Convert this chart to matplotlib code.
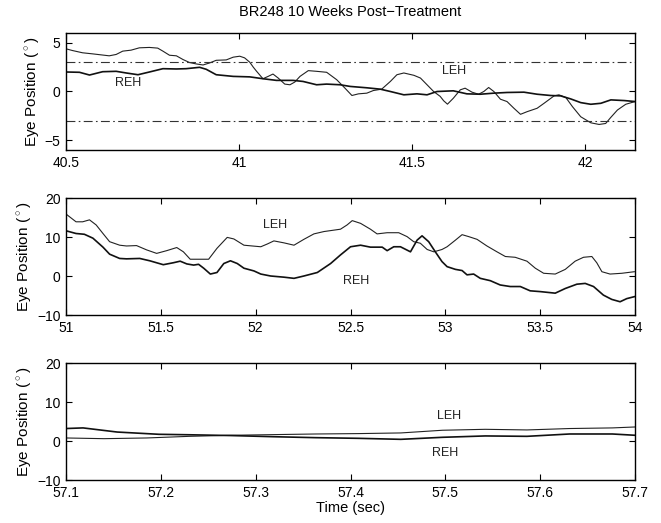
import matplotlib
matplotlib.use("Agg")
import matplotlib.pyplot as plt

plt.rcParams['font.family'] = ['Liberation Sans', 'DejaVu Sans']
plt.rcParams['mathtext.fontset'] = 'custom'
plt.rcParams['mathtext.rm'] = 'Liberation Sans'

# panel 1 (40.5 - 42.14 s)
t1_leh = [40.5, 40.519, 40.548, 40.577, 40.625, 40.645, 40.664, 40.688, 40.712, 40.741,
          40.765, 40.780, 40.799, 40.819, 40.838, 40.857, 40.876, 40.896, 40.915, 40.934,
          40.963, 40.983, 41.002, 41.016, 41.031, 41.041, 41.050, 41.069, 41.084, 41.098,
          41.113, 41.132, 41.147, 41.161, 41.176, 41.200, 41.224, 41.253, 41.282, 41.306,
          41.326, 41.345, 41.369, 41.388, 41.412, 41.437, 41.456, 41.476, 41.505, 41.524,
          41.543, 41.562, 41.581, 41.591, 41.602, 41.619, 41.639, 41.653, 41.673, 41.692,
          41.707, 41.721, 41.736, 41.755, 41.774, 41.794, 41.813, 41.832, 41.861, 41.881,
          41.910, 41.924, 41.944, 41.963, 41.987, 42.016, 42.040, 42.059, 42.073, 42.093,
          42.117, 42.144]
v1_leh = [4.38, 4.2, 3.97, 3.86, 3.66, 3.8, 4.14, 4.24, 4.48, 4.52,
          4.45, 4.14, 3.72, 3.66, 3.28, 2.97, 2.83, 2.72, 2.93, 3.2,
          3.24, 3.52, 3.62, 3.45, 3.0, 2.5, 2.1, 1.31, 1.55, 1.79,
          1.38, 0.76, 0.69, 0.97, 1.55, 2.14, 2.07, 1.97, 1.21, 0.34,
          -0.41, -0.24, -0.17, 0.10, 0.24, 1.03, 1.72, 1.90, 1.66, 1.38,
          0.69, 0.0, -0.5, -0.95, -1.3, -0.69, 0.17, 0.34, -0.07, -0.28,
          0.0, 0.41, 0.0, -0.79, -1.03, -1.72, -2.34, -2.07, -1.72, -1.21,
          -0.45, -0.34, -0.62, -1.55, -2.59, -3.21, -3.38, -3.28, -2.69, -1.9,
          -1.31, -1.03]
t1_reh = [40.5, 40.539, 40.568, 40.606, 40.645, 40.674, 40.708, 40.741, 40.780, 40.819,
          40.847, 40.886, 40.905, 40.934, 40.983, 41.031, 41.069, 41.108, 41.156, 41.185,
          41.224, 41.253, 41.292, 41.321, 41.369, 41.408, 41.437, 41.476, 41.514, 41.543,
          41.572, 41.619, 41.658, 41.697, 41.736, 41.774, 41.823, 41.861, 41.900, 41.929,
          41.958, 41.987, 42.016, 42.045, 42.074, 42.113, 42.144]
v1_reh = [2.0, 1.97, 1.69, 2.03, 2.07, 1.9, 1.72, 2.0, 2.34, 2.31,
          2.34, 2.48, 2.28, 1.72, 1.55, 1.5, 1.31, 1.14, 1.14, 1.03,
          0.69, 0.76, 0.69, 0.52, 0.38, 0.24, 0.0, -0.34, -0.24, -0.34,
          0.0, 0.07, -0.24, -0.28, -0.17, -0.10, -0.07, -0.28, -0.41, -0.45,
          -0.76, -1.14, -1.31, -1.21, -0.86, -0.93, -1.03]

# panel 2 (51 - 54 s)
t2_leh = [51.0, 51.053, 51.088, 51.124, 51.159, 51.195, 51.230, 51.283, 51.319, 51.372,
          51.425, 51.478, 51.531, 51.584, 51.619, 51.655, 51.708, 51.752, 51.796, 51.850,
          51.885, 51.938, 51.982, 52.027, 52.061, 52.096, 52.149, 52.202, 52.254, 52.307,
          52.360, 52.447, 52.482, 52.509, 52.553, 52.605, 52.640, 52.693, 52.754, 52.798,
          52.833, 52.868, 52.904, 52.939, 52.982, 53.009, 53.053, 53.088, 53.123, 53.167,
          53.219, 53.272, 53.316, 53.368, 53.430, 53.474, 53.518, 53.579, 53.632, 53.684,
          53.728, 53.772, 53.798, 53.825, 53.868, 53.930, 53.996]
v2_leh = [15.9, 13.9, 13.9, 14.4, 13.1, 10.9, 8.8, 7.9, 7.7, 7.8,
          6.7, 5.8, 6.5, 7.3, 6.2, 4.3, 4.3, 4.3, 7.1, 9.9,
          9.5, 7.9, 7.7, 7.5, 8.2, 9.0, 8.5, 7.9, 9.4, 10.8,
          11.4, 12.0, 13.1, 14.2, 13.5, 12.0, 10.8, 11.1, 11.1, 10.1,
          8.8, 8.4, 6.8, 6.2, 6.8, 7.5, 9.2, 10.6, 10.1, 9.4,
          7.7, 6.2, 5.0, 4.8, 3.8, 2.0, 0.7, 0.5, 1.7, 3.8,
          4.8, 5.0, 3.4, 1.1, 0.5, 0.7, 1.1]
t2_reh = [51.0, 51.053, 51.097, 51.142, 51.195, 51.230, 51.283, 51.319, 51.389, 51.442,
          51.513, 51.566, 51.602, 51.637, 51.673, 51.699, 51.726, 51.761, 51.796, 51.832,
          51.867, 51.903, 51.938, 51.991, 52.027, 52.079, 52.149, 52.202, 52.254, 52.325,
          52.395, 52.447, 52.500, 52.553, 52.605, 52.667, 52.693, 52.728, 52.763, 52.816,
          52.851, 52.877, 52.912, 52.947, 52.982, 53.009, 53.053, 53.088, 53.114, 53.149,
          53.184, 53.237, 53.289, 53.342, 53.395, 53.447, 53.500, 53.579, 53.632, 53.693,
          53.737, 53.781, 53.833, 53.877, 53.921, 53.956, 53.996]
v2_reh = [11.6, 10.9, 10.7, 9.7, 7.4, 5.6, 4.5, 4.4, 4.5, 3.9,
          2.9, 3.4, 3.8, 3.1, 2.8, 3.0, 2.0, 0.5, 0.9, 3.2,
          3.9, 3.2, 2.0, 1.3, 0.5, 0.0, -0.3, -0.6, 0.0, 0.9,
          3.2, 5.4, 7.5, 7.9, 7.4, 7.4, 6.5, 7.5, 7.5, 6.2,
          9.2, 10.3, 8.8, 6.2, 3.7, 2.4, 1.7, 1.4, 0.3, 0.5,
          -0.6, -1.2, -2.3, -2.7, -2.7, -3.8, -4.0, -4.4, -3.2, -2.1,
          -1.9, -2.7, -4.9, -6.0, -6.6, -5.8, -5.3]

# panel 3 (57.1 - 57.7 s)
t3_leh = [57.1, 57.140, 57.185, 57.230, 57.274, 57.319, 57.363, 57.408, 57.453, 57.497,
          57.542, 57.586, 57.631, 57.676, 57.7]
v3_leh = [0.78, 0.6, 0.78, 1.2, 1.47, 1.64, 1.8, 1.9, 2.07, 2.76,
          3.0, 2.84, 3.2, 3.36, 3.6]
t3_reh = [57.1, 57.118, 57.154, 57.198, 57.230, 57.274, 57.319, 57.363, 57.408, 57.453,
          57.497, 57.542, 57.586, 57.631, 57.676, 57.7]
v3_reh = [3.2, 3.36, 2.3, 1.72, 1.6, 1.4, 1.1, 0.86, 0.69, 0.43,
          0.95, 1.3, 1.2, 1.8, 1.8, 1.47]

panels = [
    dict(t_leh=t1_leh, v_leh=v1_leh, t_reh=t1_reh, v_reh=v1_reh,
         xlim=(40.5, 42.144), ylim=(-6, 6), xticks=[40.5, 41, 41.5, 42],
         xticklabels=['40.5', '41', '41.5', '42'], yticks=[-5, 0, 5],
         leh_lab=(41.62, 2.1), reh_lab=(40.68, 0.9)),
    dict(t_leh=t2_leh, v_leh=v2_leh, t_reh=t2_reh, v_reh=v2_reh,
         xlim=(51, 54), ylim=(-10, 20), xticks=[51, 51.5, 52, 52.5, 53, 53.5, 54],
         xticklabels=['51', '51.5', '52', '52.5', '53', '53.5', '54'], yticks=[-10, 0, 10, 20],
         leh_lab=(52.1, 13.2), reh_lab=(52.53, -1.4)),
    dict(t_leh=t3_leh, v_leh=v3_leh, t_reh=t3_reh, v_reh=v3_reh,
         xlim=(57.1, 57.7), ylim=(-10, 20),
         xticks=[57.1, 57.2, 57.3, 57.4, 57.5, 57.6, 57.7],
         xticklabels=['57.1', '57.2', '57.3', '57.4', '57.5', '57.6', '57.7'],
         yticks=[-10, 0, 10, 20],
         leh_lab=(57.504, 6.4), reh_lab=(57.5, -3.0)),
]

fig = plt.figure(figsize=(6.61, 5.23), dpi=100)
bottoms = [0.7132, 0.3977, 0.0822]

for i, p in enumerate(panels):
    ax = fig.add_axes([0.0998, bottoms[i], 0.861, 0.2237])
    ax.plot(p['t_leh'], p['v_leh'], color='#222222', lw=0.8)
    ax.plot(p['t_reh'], p['v_reh'], color='#111111', lw=1.2)
    if i == 0:
        ax.axhline(3, color='#333333', lw=0.8, ls='-.', dashes=(8, 3, 1.5, 3))
        ax.axhline(-3, color='#333333', lw=0.8, ls='-.', dashes=(8, 3, 1.5, 3))
    ax.set_xlim(*p['xlim'])
    ax.set_ylim(*p['ylim'])
    ax.set_xticks(p['xticks'])
    ax.set_xticklabels(p['xticklabels'])
    ax.set_yticks(p['yticks'])
    ax.tick_params(direction='in', top=True, right=True, length=4, width=0.8,
                   labelsize=10, pad=4)
    for s in ax.spines.values():
        s.set_linewidth(1.0)
    ax.set_ylabel('Eye Position ($^\\circ$)', fontsize=11, labelpad=2)
    ax.text(*p['leh_lab'], 'LEH', fontsize=9, ha='center', va='center', color='#222222')
    ax.text(*p['reh_lab'], 'REH', fontsize=9, ha='center', va='center', color='#222222')
    if i == 0:
        ax.set_title('BR248 10 Weeks Post\u2212Treatment', fontsize=10.5, pad=12)
    if i == 2:
        ax.set_xlabel('Time (sec)', fontsize=10.5, labelpad=1)

fig.savefig('out.png', dpi=100)
